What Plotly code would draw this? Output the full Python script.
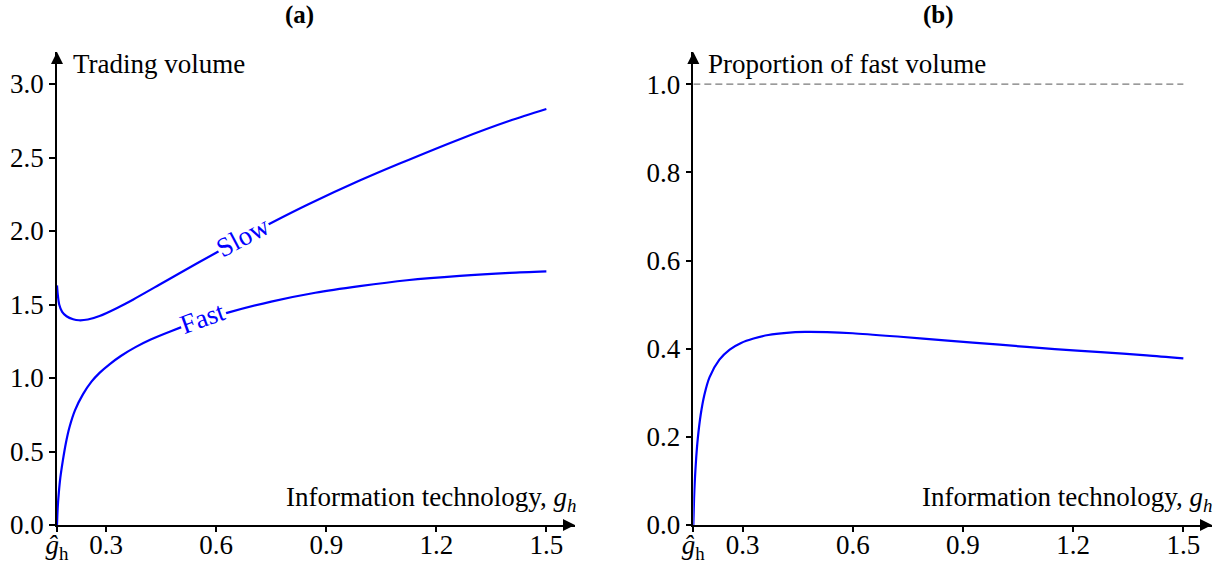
import plotly.graph_objects as go

# ---------------- data ----------------
g_hat = 0.166

x_fast = [0.166, 0.168, 0.171, 0.175, 0.182, 0.190, 0.200, 0.215, 0.237, 0.260,
          0.282, 0.310, 0.340, 0.380, 0.420, 0.473, 0.550, 0.632, 0.750, 0.870,
          0.991, 1.120, 1.264, 1.400, 1.500]
y_fast = [0.00, 0.12, 0.22, 0.32, 0.44, 0.555, 0.665, 0.78, 0.89, 0.975,
          1.035, 1.095, 1.15, 1.21, 1.26, 1.315, 1.385, 1.445, 1.52, 1.58,
          1.625, 1.665, 1.695, 1.715, 1.725]

x_slow = [0.166, 0.168, 0.172, 0.180, 0.192, 0.210, 0.226, 0.250, 0.282, 0.330,
          0.373, 0.446, 0.500, 0.596, 0.672, 0.755, 0.850, 0.991, 1.100, 1.264,
          1.400, 1.500]
y_slow = [1.63, 1.57, 1.50, 1.45, 1.42, 1.40, 1.393, 1.398, 1.422, 1.477,
          1.533, 1.636, 1.713, 1.847, 1.951, 2.061, 2.180, 2.343, 2.459, 2.625,
          2.750, 2.830]

x_prop = [0.166, 0.168, 0.170, 0.174, 0.178, 0.186, 0.196, 0.210, 0.237, 0.265,
          0.296, 0.330, 0.370, 0.420, 0.470, 0.530, 0.600, 0.730, 0.850, 1.000,
          1.150, 1.275, 1.400, 1.500]
y_prop = [0.000, 0.060, 0.100, 0.155, 0.195, 0.250, 0.295, 0.335, 0.375, 0.398,
          0.413, 0.423, 0.431, 0.436, 0.438, 0.4375, 0.435, 0.427, 0.419, 0.409,
          0.399, 0.392, 0.385, 0.378]

x_tickvals = [g_hat, 0.3, 0.6, 0.9, 1.2, 1.5]
x_ticktext = ["<i>ĝ</i><sub>h</sub>", "0.3", "0.6", "0.9", "1.2", "1.5"]
y1_ticks = [0.0, 0.5, 1.0, 1.5, 2.0, 2.5, 3.0]
y2_ticks = [0.0, 0.2, 0.4, 0.6, 0.8, 1.0]

# ---------------- layout geometry ----------------
W, H = 1223, 563
ML, MR, MT, MB = 57.3, 11.3, 52, 38
PW = W - ML - MR
PH = H - MT - MB
X_MAX = 1.578
Y1_MAX = 3.218
Y2_MAX = 1.073

def px(xp):
    return (xp - ML) / PW

def py(yp):
    return (H - MB - yp) / PH

left_dom = [0, px(575.0)]
right_dom = [px(693.3), 1]

FONT = "Liberation Serif, Times New Roman, serif"
BLUE = "#0000ff"
FS = 27

fig = go.Figure()

line_style = dict(color=BLUE, width=2.2, shape="spline", smoothing=0.8)
fig.add_trace(go.Scatter(x=x_slow, y=y_slow, mode="lines", line=line_style,
                         xaxis="x", yaxis="y", showlegend=False, hoverinfo="skip"))
fig.add_trace(go.Scatter(x=x_fast, y=y_fast, mode="lines", line=line_style,
                         xaxis="x", yaxis="y", showlegend=False, hoverinfo="skip"))
fig.add_trace(go.Scatter(x=x_prop, y=y_prop, mode="lines", line=line_style,
                         xaxis="x2", yaxis="y2", showlegend=False, hoverinfo="skip"))
# dashed reference line at 1.0
fig.add_trace(go.Scatter(x=[g_hat, 1.5], y=[1.0, 1.0], mode="lines",
                         line=dict(color="#7a7a7a", width=1.2, dash="7px,4px"),
                         xaxis="x2", yaxis="y2", showlegend=False, hoverinfo="skip"))

# arrowheads at the ends of the axes
for xa, ya, ymax in [("x", "y", Y1_MAX), ("x2", "y2", Y2_MAX)]:
    fig.add_trace(go.Scatter(x=[X_MAX], y=[0], mode="markers", cliponaxis=False,
                             marker=dict(symbol="arrow-right", size=12, color="black",
                                         line=dict(width=0)),
                             xaxis=xa, yaxis=ya, showlegend=False, hoverinfo="skip"))
    fig.add_trace(go.Scatter(x=[g_hat], y=[ymax], mode="markers", cliponaxis=False,
                             marker=dict(symbol="arrow-up", size=12, color="black",
                                         line=dict(width=0)),
                             xaxis=xa, yaxis=ya, showlegend=False, hoverinfo="skip"))

tick_font = dict(family=FONT, size=FS, color="black")
common_x = dict(range=[g_hat, X_MAX], tickmode="array", tickvals=x_tickvals, ticktext=x_ticktext,
                ticks="outside", ticklen=5, tickwidth=1.5, tickcolor="black",
                showline=True, linecolor="black", linewidth=1.5,
                showgrid=False, zeroline=False, tickfont=tick_font, ticklabelstandoff=-10,
                fixedrange=True)
common_y = dict(domain=[0, 1], tickformat=".1f", ticks="outside", ticklen=6, tickwidth=1.5,
                tickcolor="black", showline=True, linecolor="black", linewidth=1.5,
                showgrid=False, zeroline=False, tickfont=tick_font, tickmode="array",
                fixedrange=True)
fig.update_layout(
    width=W, height=H,
    margin=dict(l=ML, r=MR, t=MT, b=MB, autoexpand=False),
    plot_bgcolor="white", paper_bgcolor="white",
    font=dict(family=FONT, size=FS, color="black"),
    xaxis=dict(domain=left_dom, anchor="y", **common_x),
    xaxis2=dict(domain=right_dom, anchor="y2", **common_x),
    yaxis=dict(anchor="x", range=[0, Y1_MAX], tickvals=y1_ticks, **common_y),
    yaxis2=dict(anchor="x2", range=[0, Y2_MAX], tickvals=y2_ticks, **common_y),
)

ann = []
# panel titles
ann.append(dict(x=px(300), y=py(0), xref="paper", yref="paper", text="<b>(a)</b>", showarrow=False,
                font=dict(family=FONT, size=25), xanchor="center", yanchor="top", borderpad=0))
ann.append(dict(x=px(938), y=py(0), xref="paper", yref="paper", text="<b>(b)</b>", showarrow=False,
                font=dict(family=FONT, size=25), xanchor="center", yanchor="top", borderpad=0))

# axis labels
ann.append(dict(x=px(71), y=py(64), xref="paper", yref="paper", text="Trading volume", showarrow=False,
                font=dict(family=FONT, size=FS), xanchor="left", yanchor="middle"))
ann.append(dict(x=px(706), y=py(64), xref="paper", yref="paper", text="Proportion of fast volume",
                showarrow=False, font=dict(family=FONT, size=FS), xanchor="left", yanchor="middle"))
xlab = "Information technology, <i>g<sub>h</sub></i>"
ann.append(dict(x=px(578), y=py(499), xref="paper", yref="paper", text=xlab, showarrow=False,
                font=dict(family=FONT, size=FS), xanchor="right", yanchor="middle"))
ann.append(dict(x=px(1214), y=py(499), xref="paper", yref="paper", text=xlab, showarrow=False,
                font=dict(family=FONT, size=FS), xanchor="right", yanchor="middle"))

# inline curve labels
ann.append(dict(x=0.672, y=1.96, xref="x", yref="y", text="Slow", showarrow=False, textangle=-28,
                font=dict(family=FONT, size=FS, color=BLUE), bgcolor="white", borderpad=0))
ann.append(dict(x=0.563, y=1.405, xref="x", yref="y", text="Fast", showarrow=False, textangle=-20,
                font=dict(family=FONT, size=FS, color=BLUE), bgcolor="white", borderpad=0))

fig.update_layout(annotations=ann)

fig.write_html("out.html")
